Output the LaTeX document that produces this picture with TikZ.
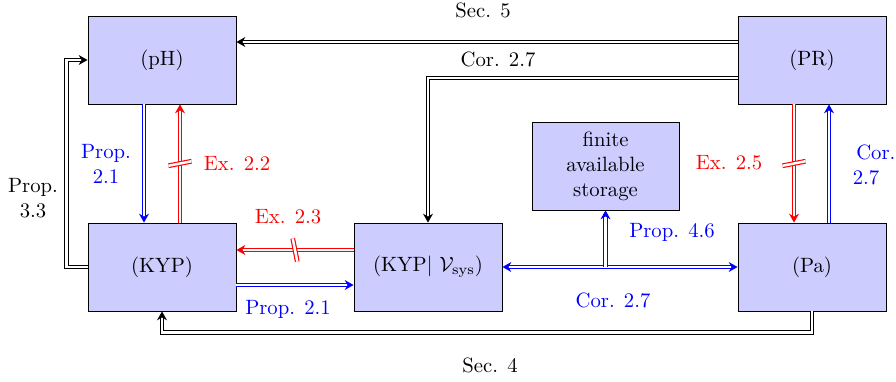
\documentclass[tikz,border=0pt]{standalone}
\usetikzlibrary{arrows.meta,calc,decorations.markings}
\begin{document}
\begin{tikzpicture}[x=0.4831pt,y=-0.4831pt,
  box/.style={draw=black,fill=blue!20,line width=0.4pt,minimum width=71.5pt,minimum height=42.5pt,inner sep=0pt,align=center},
  dbl/.style={double,double distance=1.2pt,line width=0.55pt,-{Stealth[length=4.3pt,width=4.8pt]}},
  dblboth/.style={double,double distance=1.2pt,line width=0.55pt,{Stealth[length=4.3pt,width=4.8pt]}-{Stealth[length=4.3pt,width=4.8pt]}},
  blk/.style={dbl,black},
  bl/.style={dbl,blue},
  rd/.style={dbl,red},
  notmark/.style={postaction={decorate},decoration={markings,mark=at position 0.5 with {\draw[red,double,double distance=1.2pt,line width=0.55pt,-] (-1.1pt,5.6pt) -- (1.1pt,-5.6pt);}}},
  lbl/.style={inner sep=1pt,align=center},
  lblb/.style={lbl,text=blue},
  lblr/.style={lbl,text=red}]
\useasboundingbox (0,0) rectangle (896,381);
% boxes
\node[box] (pH) at (162,60) {(pH)};
\node[box] (PR) at (812,60) {(PR)};
\node[box] (KYP) at (162,267) {(KYP)};
\node[box] (KYPV) at (428,267) {(KYP$|$ $\mathcal{V}_{\mathrm{sys}}$)};
\node[box] (Pa) at (812,267) {(Pa)};
\node[box,minimum width=71pt] (store) at (605.5,166) {finite\\available\\storage};
% connectors
\draw[blk] ($(PR.west)+(0,-18)$) -- ($(pH.east)+(0,-18)$);
\draw[blk] ($(PR.west)+(0,18)$) -| (KYPV.north);
\draw[bl] ($(pH.south)+(-18,0)$) -- ($(KYP.north)+(-18,0)$);
\draw[rd,notmark] ($(KYP.north)+(18,0)$) -- ($(pH.south)+(18,0)$);
\draw[rd,notmark] ($(KYPV.west)+(0,-17)$) -- ($(KYP.east)+(0,-17)$);
\draw[bl] ($(KYP.east)+(0,18)$) -- ($(KYPV.west)+(0,18)$);
\draw[blk] (KYP.west) -- ++(-21,0) |- (pH.west);
\draw[blk] (Pa.south) -- ++(0,21) -| (KYP.south);
\draw[dblboth,blue] (KYPV.east) -- (Pa.west);
\coordinate (br) at (store.south |- KYPV.east);
\draw[bl] (br) -- (store.south);
\draw[rd,notmark] ($(PR.south)+(-18,0)$) -- ($(Pa.north)+(-18,0)$);
\draw[bl] ($(Pa.north)+(17,0)$) -- ($(PR.south)+(17,0)$);
% labels
\node[lbl] (l1) at (483,10) {Sec. 5};
\node[lbl] (l2) at (498,59) {Cor. 2.7};
\node[lblb] (l3) at (106,164) {Prop.\\2.1};
\node[lblr] (l4) at (237,163) {Ex. 2.2};
\node[lblr] (l5) at (288,217) {Ex. 2.3};
\node[lblb] (l6) at (288,309) {Prop. 2.1};
\node[lbl] (l7) at (33,198) {Prop.\\3.3};
\node[lbl] (l8) at (490,365) {Sec. 4};
\node[lblb] (l9) at (672,232) {Prop. 4.6};
\node[lblb] (l10) at (613,300) {Cor. 2.7};
\node[lblr] (l11) at (729,163) {Ex. 2.5};
\node[lblb] (l12) at (866,165) {\hspace*{9.5pt}Cor.\\2.7};
\end{tikzpicture}
\end{document}
